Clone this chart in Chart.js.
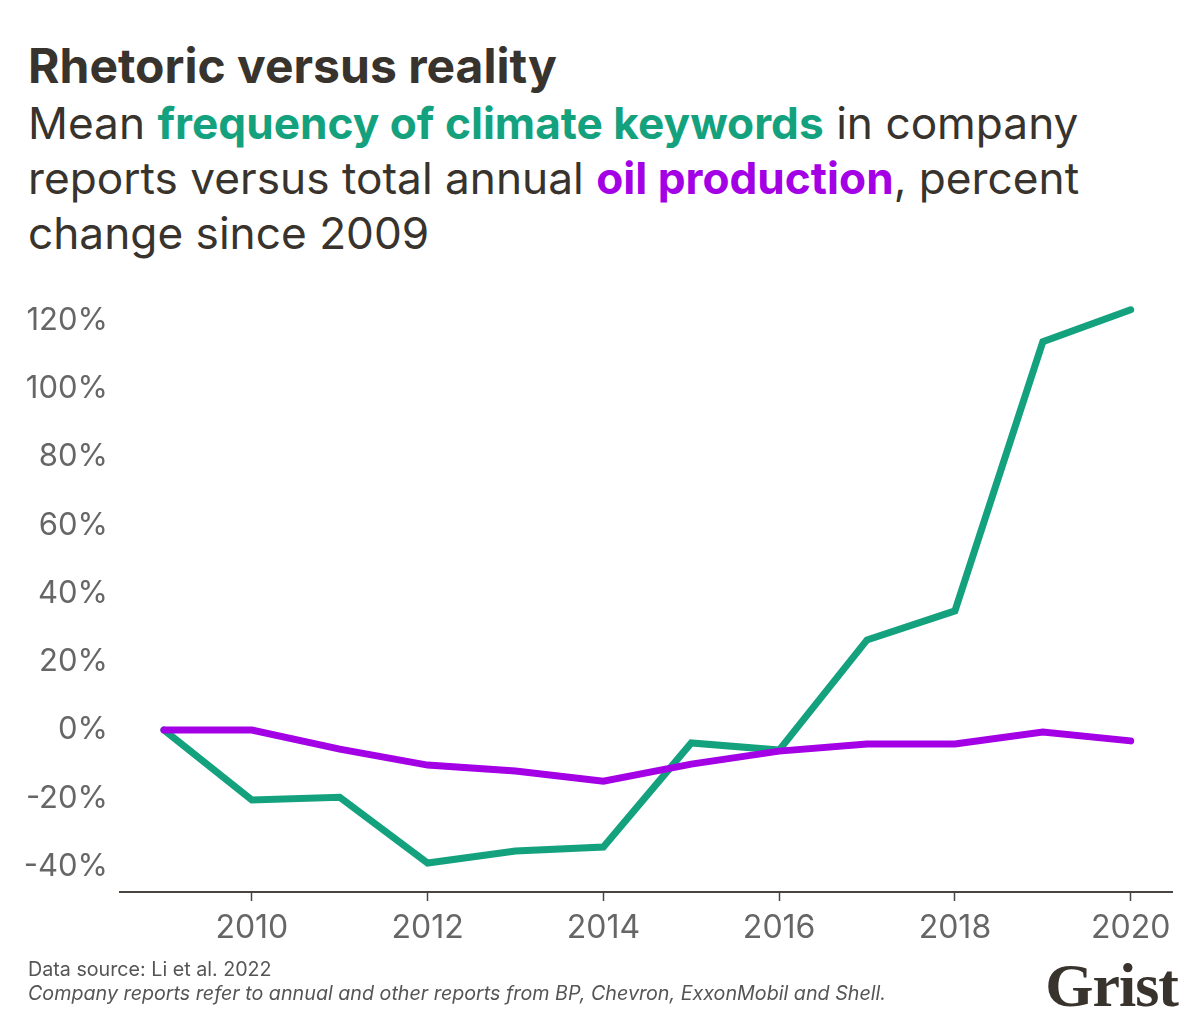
<!DOCTYPE html>
<html>
<head>
<meta charset="utf-8">
<script src="https://cdn.jsdelivr.net/npm/chart.js@4"></script>
<style>
  html, body { margin: 0; padding: 0; background: #fff; }
  body { width: 1200px; height: 1028px; position: relative; overflow: hidden; font-family: Inter, "Noto Sans", sans-serif; }
  .title { position: absolute; left: 28px; top: 36px; font-size: 48px; font-weight: 700; color: #38332d; letter-spacing: 0; }
  .sub { position: absolute; left: 28px; top: 96px; font-size: 44.2px; line-height: 55px; font-weight: 400; color: #38332d; }
  .sub .g { color: #14a27e; font-weight: 700; }
  .sub .p { color: #a300e6; font-weight: 700; }
  .src { position: absolute; left: 28px; top: 957px; font-size: 19.7px; line-height: 24px; color: #555; }
  .src i { display: block; }
  .logo { position: absolute; right: 22px; top: 950px; font-family: "Liberation Serif", serif; font-weight: 700; font-size: 62px; color: #38332d; letter-spacing: -1px; }
  #wrap { position: absolute; left: 0; top: 281px; width: 1200px; height: 681px; }
</style>
</head>
<body>
<div class="title">Rhetoric versus reality</div>
<div class="sub">Mean <span class="g">frequency of climate keywords</span> in company<br>reports versus total annual <span class="p">oil production</span>, percent<br>change since 2009</div>
<div id="wrap"><canvas id="chart"></canvas></div>
<div class="src">Data source: Li et al. 2022<i>Company reports refer to annual and other reports from BP, Chevron, ExxonMobil and Shell.</i></div>
<div class="logo">Grist</div>
<script>
/* ── Data ── */
const years = [2009, 2010, 2011, 2012, 2013, 2014, 2015, 2016, 2017, 2018, 2019, 2020];
const climateKeywords = [0, -20.5, -19.7, -39, -35.5, -34.3, -3.8, -5.9, 26.4, 34.9, 113.8, 123.2];
const oilProduction = [0, 0, -5.6, -10.3, -12, -15, -10, -6.2, -4.1, -4.1, -0.6, -3.2];
const xTicks = [2010, 2012, 2014, 2016, 2018, 2020];
const yTicks = [-40, -20, 0, 20, 40, 60, 80, 100, 120];

const GREEN = '#14a27e';
const PURPLE = '#a300e6';
const AXIS = '#4a4540';
const TICK_TXT = '#666';

const toPoints = vals => vals.map((v, i) => ({ x: years[i], y: v }));

new Chart(document.getElementById('chart'), {
  type: 'line',
  data: {
    datasets: [
      {
        label: 'Oil production',
        data: toPoints(oilProduction),
        borderColor: PURPLE,
        borderWidth: 7,
        borderCapStyle: 'round',
        pointRadius: 0,
        tension: 0,
      },
      {
        label: 'Climate keywords',
        data: toPoints(climateKeywords),
        borderColor: GREEN,
        borderWidth: 7,
        borderCapStyle: 'round',
        pointRadius: 0,
        tension: 0,
      }
    ]
  },
  options: {
    responsive: true, maintainAspectRatio: false,
    animation: false,
    layout: { padding: { top: 12, right: 28, left: 0, bottom: 0 } },
    plugins: { legend: { display: false }, tooltip: { enabled: false } },
    scales: {
      x: {
        type: 'linear',
        min: 2008.5, max: 2020.47,
        afterBuildTicks: s => { s.ticks = xTicks.map(v => ({ value: v })); },
        afterFit: s => { s.height = 70; },
        grid: { display: true, drawOnChartArea: false, drawTicks: true, tickLength: 9, color: AXIS, tickWidth: 1.5 },
        border: { display: true, color: AXIS, width: 2 },
        ticks: { color: TICK_TXT, padding: 8, maxRotation: 0, font: { family: 'Inter', size: 32 }, callback: v => String(v) }
      },
      y: {
        min: -47.5, max: 125,
        afterBuildTicks: s => { s.ticks = yTicks.map(v => ({ value: v })); },
        afterFit: s => { s.width = 120; },
        grid: { display: false },
        border: { display: false },
        ticks: { color: TICK_TXT, padding: 4, font: { family: 'Inter', size: 31 }, callback: v => v + '%' }
      }
    }
  }
});
</script>
</body>
</html>
